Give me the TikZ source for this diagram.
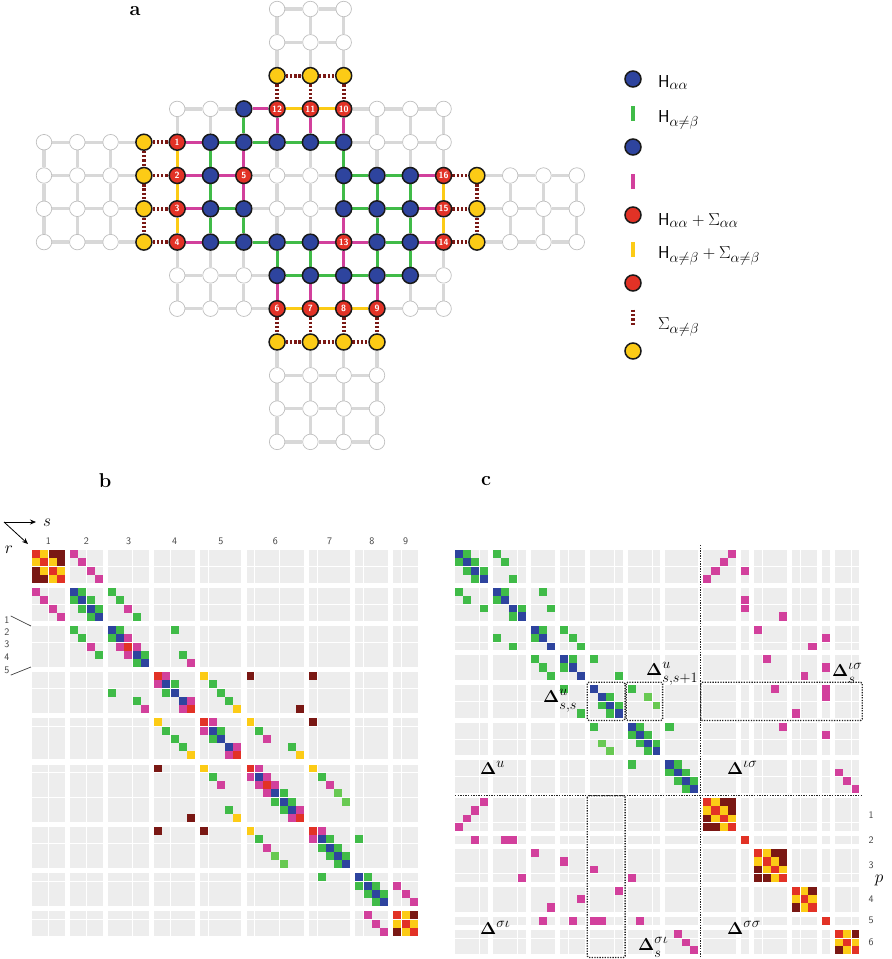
\documentclass[tikz,border=0pt]{standalone}
\usepackage{amsmath}
\usetikzlibrary{arrows.meta}

\definecolor{hblue}{RGB}{46,68,158}
\definecolor{sred}{RGB}{226,50,38}
\definecolor{syel}{RGB}{252,203,22}
\definecolor{sdark}{RGB}{122,24,20}
\definecolor{hgreen}{RGB}{64,187,72}
\definecolor{lgreen}{RGB}{104,201,82}
\definecolor{hmag}{RGB}{210,64,156}
\definecolor{cellbg}{RGB}{237,237,237}
\definecolor{bondgray}{RGB}{216,216,216}

\pgfdeclarelayer{bg}
\pgfsetlayers{bg,main}

% site order of panel c, indexed by the order of panel b
\def\permc{{29,28,27,26,0,1,2,3,4,5,30,6,7,31,8,9,10,37,32,11,12,13,36,33,14,38,15,16,17,35,34,18,19,20,21,22,23,24,25,39,40,41}}
\def\bblocks{0/4,4/4,8/5,13/5,18/5,23/7,30/5,35/4,39/3}
\def\cblocks{0/4,4/4,8/3,11/3,14/4,18/4,22/4,26/4,30/1,31/4,35/3,38/1,39/3}

% matrix elements, mirrored: panel b, panel c, and both
\newcommand\bcell[3]{%
  \fill[#3] ({32+bpos(#2)},{550+bpos(#1)}) rectangle ++(8.2,8.2);
  \fill[#3] ({32+bpos(#1)},{550+bpos(#2)}) rectangle ++(8.2,8.2);
}
\newcommand\ccell[3]{%
  \fill[#3] ({455+cpos(#2)},{550+cpos(#1)}) rectangle ++(8.2,8.2);
  \fill[#3] ({455+cpos(#1)},{550+cpos(#2)}) rectangle ++(8.2,8.2);
}
\newcommand\mcell[3]{%
  \bcell{#1}{#2}{#3}%
  \pgfmathtruncatemacro\ci{\permc[#1]}%
  \pgfmathtruncatemacro\cj{\permc[#2]}%
  \ccell{\ci}{\cj}{#3}%
}
% lowered subscript of the Delta labels
\newcommand\dsub[1]{\lower3pt\hbox{$\scriptstyle #1$}}

\tikzset{
  site/.style={circle, minimum size=16pt, inner sep=0pt, line width=1.5pt, draw=black!90},
  siteW/.style={circle, minimum size=15.5pt, inner sep=0pt, line width=0.7pt, draw=black!25, fill=white},
  siteB/.style={site, fill=hblue},
  siteY/.style={site, fill=syel},
  siteR/.style={site, fill=sred, text=white, font=\sffamily\bfseries\fontsize{9}{9}\selectfont},
  gbond/.style={line width=3.3pt, draw=bondgray},
  bondWW/.style=gbond, bondWB/.style=gbond, bondBW/.style=gbond, bondWR/.style=gbond,
  bondRW/.style=gbond, bondWY/.style=gbond, bondYW/.style=gbond, bondBY/.style=gbond, bondYB/.style=gbond,
  bondBB/.style={line width=3pt, draw=hgreen},
  bondBR/.style={line width=3pt, draw=hmag},
  bondRB/.style={line width=3pt, draw=hmag},
  bondRR/.style={line width=3pt, draw=syel},
  sbond/.style={line width=3.8pt, draw=sdark, dash pattern=on 2.3pt off 1.9pt},
  bondRY/.style=sbond, bondYR/.style=sbond, bondYY/.style=sbond,
  legtext/.style={anchor=base west, inner sep=0pt, font=\fontsize{19}{22}\selectfont},
  dlt/.style={anchor=base west, inner sep=0pt, font=\fontsize{19}{22}\selectfont},
  tick/.style={inner sep=1pt, font=\sffamily\fontsize{10}{10}\selectfont, text=black!75},
  panel/.style={font=\bfseries\fontsize{20}{20}\selectfont},
  splitl/.style={white, line width=1pt},
  dotl/.style={line width=1.3pt, black!85, dash pattern=on 1.3pt off 1.3pt},
}

\begin{document}
\begin{tikzpicture}[x=1pt, y=-1pt, >={Stealth[length=6pt,width=5pt]},
  declare function={bpos(\j)=8.2*\j+5.2*((\j>3.5)+(\j>7.5)+(\j>12.5)+(\j>17.5)+(\j>22.5)+(\j>29.5)+(\j>34.5)+(\j>38.5));
    cpos(\j)=8.2*\j+5*((\j>3.5)+(\j>7.5)+(\j>10.5)+(\j>13.5)+(\j>17.5)+(\j>21.5)+(\j>25.5)+(\j>29.5)+(\j>30.5)+(\j>34.5)+(\j>37.5)+(\j>38.5));}]
  \useasboundingbox (0,0) rectangle (892,959);

  % Panel labels
  \node[panel] (pa) at (135,11) {a};
  \node[panel] (pb) at (105,481) {b};
  \node[panel] (pc) at (486,481) {c};

  % Lattice sites (W white, B blue, Y yellow, R red with its number)
  \foreach \rr/\cs/\row in {
      0/7/{W/,W/,W/}, 1/7/{W/,W/,W/}, 2/7/{Y/,Y/,Y/},
      3/4/{W/,W/,B/,R/12,R/11,R/10,W/,W/,W/},
      4/0/{W/,W/,W/,Y/,R/1,B/,B/,B/,B/,B/,W/,W/,W/},
      5/0/{W/,W/,W/,Y/,R/2,B/,R/5,W/,W/,B/,B/,B/,R/16,Y/,W/,W/,W/},
      6/0/{W/,W/,W/,Y/,R/3,B/,B/,W/,W/,B/,B/,B/,R/15,Y/,W/,W/,W/},
      7/0/{W/,W/,W/,Y/,R/4,B/,B/,B/,B/,R/13,B/,B/,R/14,Y/,W/,W/,W/},
      8/4/{W/,W/,W/,B/,B/,B/,B/,B/,W/},
      9/4/{W/,W/,W/,R/6,R/7,R/8,R/9,W/,W/},
      10/7/{Y/,Y/,Y/,Y/}, 11/7/{W/,W/,W/,W/}, 12/7/{W/,W/,W/,W/}, 13/7/{W/,W/,W/,W/}} {
    \foreach \ty/\lab [count=\kk from 0] in \row {
      \pgfmathtruncatemacro\cc{\cs+\kk}
      \edef\tmp{\noexpand\node[site\ty] (s-\cc-\rr) at ({44+33.3*\cc},{9+33.3*\rr}) {\lab};}\tmp
      \expandafter\xdef\csname ty-\cc-\rr\endcsname{\ty}
    }
  }
  % Bonds between neighbouring sites
  \begin{pgfonlayer}{bg}
  \foreach \cc in {0,...,16} {
    \foreach \rr in {0,...,13} {
      \ifcsname ty-\cc-\rr\endcsname
        \pgfmathtruncatemacro\cn{\cc+1}
        \pgfmathtruncatemacro\rn{\rr+1}
        \ifcsname ty-\cn-\rr\endcsname
          \edef\tmp{\noexpand\draw[bond\csname ty-\cc-\rr\endcsname\csname ty-\cn-\rr\endcsname] (s-\cc-\rr) -- (s-\cn-\rr);}\tmp
        \fi
        \ifcsname ty-\cc-\rn\endcsname
          \edef\tmp{\noexpand\draw[bond\csname ty-\cc-\rr\endcsname\csname ty-\cc-\rn\endcsname] (s-\cc-\rr) -- (s-\cc-\rn);}\tmp
        \fi
      \fi
    }
  }
  \end{pgfonlayer}

  % Legend
  \node[siteB] (lg1) at (633,79) {};
  \node[legtext] (lt1) at (658,87) {$\mathsf{H}_{\alpha\alpha}$};
  \draw[line width=4.5pt, hgreen] (633,106) -- (633,121);
  \node[legtext] (lt2) at (658,122) {$\mathsf{H}_{\alpha\neq\beta}$};
  \node[siteB] (lg3) at (633,147) {};
  \draw[line width=4.5pt, hmag] (633,174) -- (633,189);
  \node[siteR] (lg5) at (633,215) {};
  \node[legtext] (lt5) at (658,225) {$\mathsf{H}_{\alpha\alpha}+\Sigma_{\alpha\alpha}$};
  \draw[line width=4.5pt, syel] (633,242) -- (633,257);
  \node[legtext] (lt6) at (658,258) {$\mathsf{H}_{\alpha\neq\beta}+\Sigma_{\alpha\neq\beta}$};
  \node[siteR] (lg7) at (633,283) {};
  \draw[line width=4.5pt, sdark, dash pattern=on 2.2pt off 2.2pt] (633,309.5) -- (633,326.5);
  \node[legtext] (lt8) at (658,329) {$\Sigma_{\alpha\neq\beta}$};
  \node[siteY] (lg9) at (633,351) {};

  % Panel b and c: grey blocks
  \foreach \i/\m in \bblocks {
    \foreach \j/\n in \bblocks {
      \fill[cellbg] ({32+bpos(\j)},{550+bpos(\i)}) rectangle ++({8.2*\n},{8.2*\m});
    }
  }
  \foreach \i/\m in \cblocks {
    \foreach \j/\n in \cblocks {
      \fill[cellbg] ({455+cpos(\j)},{550+cpos(\i)}) rectangle ++({8.2*\n},{8.2*\m});
    }
  }

  % Matrix elements
  \foreach \i in {0,1,2,3,10,13,17,18,22,23,25,29,30,39,40,41} {\mcell{\i}{\i}{sred}}
  \foreach \i in {4,...,9,11,12,14,15,16,19,20,21,24,26,27,28,31,32,33,34,35,36,37,38} {\mcell{\i}{\i}{hblue}}
  \foreach \i/\j in {4/5,5/6,6/7,4/8,5/9,7/11,8/9,11/12,8/15,11/16,14/15,14/19,15/20,16/21,19/20,19/24,21/28,
      26/27,27/28,24/31,31/32,32/33,33/34,31/35,35/36,36/37,37/38} {\mcell{\i}{\j}{hgreen}}
  \foreach \i/\j in {26/33,27/34} {\mcell{\i}{\j}{lgreen}}
  \foreach \i/\j in {0/4,1/5,2/6,3/7,6/10,9/10,10/11,13/14,16/17,18/19,21/22,20/25,23/24,24/25,25/26,
      25/32,28/29,30/31,36/39,37/40,38/41} {\mcell{\i}{\j}{hmag}}
  \bcell{12}{17}{hmag}
  \ccell{7}{34}{hmag}
  \ccell{9}{38}{hmag}
  \foreach \i/\j in {0/1,1/2,2/3,39/40,40/41,13/18,17/22,18/23,22/29,23/30} {\mcell{\i}{\j}{syel}}
  \foreach \i/\j in {0/2,0/3,1/3,39/41,13/23,13/30,18/30,17/29} {\mcell{\i}{\j}{sdark}}

  % Split lines inside the blocks
  \foreach \k in {2,6,11,15,19,24,27,31,36,40} \draw[splitl] ({32+bpos(\k)},549) -- ++(0,388);
  \foreach \k in {2,6,10,15,19,24,27,32,36,40} \draw[splitl] (31,{550+bpos(\k)}) -- ++(388,0);
  \foreach \k in {3,7,12,17,21,32,36,41} \draw[splitl] ({455+cpos(\k)},549) -- ++(0,406);
  \foreach \k in {2,6,10,16,20,24,29,34,40} \draw[splitl] (454,{550+cpos(\k)}) -- ++(406,0);

  % Panel b labels
  \foreach \k/\j/\n in {1/0/4,2/4/4,3/8/5,4/13/5,5/18/5,6/23/7,7/30/5,8/35/4,9/39/3}
    \node[tick] (bc\k) at ({32+bpos(\j)+4.1*\n},541) {\k};
  \foreach \k/\y in {1/620.5,2/632.5,3/644.5,4/657,5/670.5}
    \node[tick] (br\k) at (7,\y) {\k};
  \coordinate (bt1) at (31,626);
  \coordinate (bt5) at (31,667);
  \draw[black!75, line width=0.7pt] (br1.north east) -- (bt1);
  \draw[black!75, line width=0.7pt] (br5.south east) -- (bt5);
  \coordinate (bo) at (4,522);
  \coordinate (bx) at (36,522);
  \coordinate (by) at (28,544);
  \draw[->, line width=0.8pt] (bo) -- (bx);
  \draw[->, line width=0.8pt] (bo) -- (by);
  \node[font=\fontsize{18}{18}\selectfont, inner sep=0pt] (sl) at (47,523) {$s$};
  \node[font=\fontsize{18}{18}\selectfont, inner sep=0pt] (rl) at (9,550) {$r$};

  % Panel c: partition lines, boxes and labels
  \draw[dotl] (700.7,545) -- (700.7,958);
  \draw[dotl] (455,795.7) -- (862.5,795.7);
  \draw[dotl, rounded corners=1.5pt] (587.3,682.3) rectangle (625.1,720.4);
  \draw[dotl, rounded corners=1.5pt] (626.2,682.3) rectangle (662.6,720.4);
  \draw[dotl, rounded corners=1.5pt] (700.7,682.3) rectangle (862.3,720.4);
  \draw[dotl, rounded corners=1.5pt] (587.3,795.7) rectangle (625.1,957.5);
  \node[dlt] (d1) at (543,702) {$\mathbf{\Delta}^{u}_{\dsub{s,s}}$};
  \node[dlt] (d2) at (646,675) {$\mathbf{\Delta}^{u}_{\dsub{s,s+1}}$};
  \node[dlt] (d3) at (832,676) {$\mathbf{\Delta}^{\iota\sigma}_{\dsub{s}}$};
  \node[dlt] (d4) at (480,774) {$\mathbf{\Delta}^{u}$};
  \node[dlt] (d5) at (727,774) {$\mathbf{\Delta}^{\iota\sigma}$};
  \node[dlt] (d6) at (480,934) {$\mathbf{\Delta}^{\sigma\iota}$};
  \node[dlt] (d7) at (638,950) {$\mathbf{\Delta}^{\sigma\iota}_{\dsub{s}}$};
  \node[dlt] (d8) at (727,934) {$\mathbf{\Delta}^{\sigma\sigma}$};
  \foreach \k/\j/\n in {1/26/4,2/30/1,3/31/4,4/35/3,5/38/1,6/39/3}
    \node[tick] (pc\k) at (871,{550+cpos(\j)+4.1*\n}) {\k};
  \node[font=\fontsize{18}{18}\selectfont, inner sep=0pt] (pl) at (879,880) {$p$};
\end{tikzpicture}
\end{document}
